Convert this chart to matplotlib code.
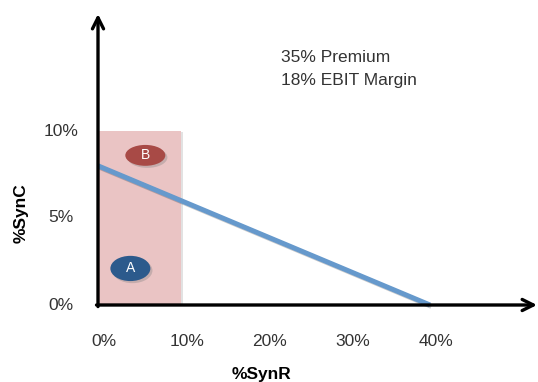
import matplotlib
matplotlib.use("Agg")
import matplotlib.pyplot as plt
import matplotlib.patches as mpatches
import matplotlib.patheffects as pe
import matplotlib.transforms as mtransforms

plt.rcParams['font.family'] = ['Liberation Sans', 'DejaVu Sans']

# Synergy values (in %)
x_ticks = [0, 10, 20, 30, 40]
y_ticks = [0, 5, 10]
x_tick_labels = ['0%', '10%', '20%', '30%', '40%']
y_tick_labels = ['0%', '5%', '10%']

# Break-even line: %SynC vs %SynR
line_synr = [0, 40]
line_sync = [8, 0]

# Shaded feasible region (SynR 0-10%, SynC 0-10%)
region_synr = [0, 10]
region_sync = [0, 10]

# Scenario markers
scen_names = ['A', 'B']
scen_synr = [3.9, 5.7]
scen_sync = [2.1, 8.6]
scen_colors = ['#2c5a8c', '#a84a46']

notes = ['35% Premium', '18% EBIT Margin']

W, H = 538, 382
fig = plt.figure(figsize=(W / 100, H / 100), dpi=100)
ax = fig.add_axes([0, 0, 1, 1])
# pixel scale: 8.3 px per % on x, 17.4 px per % on y; origin at (98, 305)
sx, sy = 8.3, 17.4
ox, oy = 98, 305
ax.set_xlim(-ox / sx, (W - ox) / sx)
ax.set_ylim(-(H - oy) / sy, oy / sy)
ax.axis('off')

shadow = [pe.SimplePatchShadow(offset=(1.5, -1.5), shadow_rgbFace='#808080', alpha=0.35), pe.Normal()]

# Shaded region
rect = mpatches.Rectangle((region_synr[0], region_sync[0]),
                          region_synr[1] - region_synr[0],
                          region_sync[1] - region_sync[0],
                          facecolor='#eac4c4', edgecolor='none', zorder=1)
rect.set_path_effects([pe.SimplePatchShadow(offset=(1.5, -1), shadow_rgbFace='#a0a0a0', alpha=0.3), pe.Normal()])
ax.add_patch(rect)

# Break-even line
ax.plot(line_synr, line_sync, color='#6699cc', lw=3.6, solid_capstyle='butt', zorder=3,
        path_effects=[pe.SimpleLineShadow(offset=(1, -1), alpha=0.2), pe.Normal()])

# Axes with arrow heads
arrow_kw = dict(arrowstyle='->', lw=2.4, color='black', mutation_scale=20, shrinkA=0, shrinkB=0)
ax.annotate('', xy=(0, (oy - 14) / sy), xytext=(0, -0.09), arrowprops=arrow_kw, zorder=5)
ax.annotate('', xy=((W - 1 - ox) / sx, 0), xytext=(-0.18, 0), arrowprops=arrow_kw, zorder=5)

# Scenario ellipses
for name, xv, yv, c in zip(scen_names, scen_synr, scen_sync, scen_colors):
    h = 1.45 if name == 'A' else 1.2
    e = mpatches.Ellipse((xv, yv), 40 / sx, h, facecolor=c, edgecolor='none', zorder=4)
    e.set_path_effects(shadow)
    ax.add_patch(e)
    ax.text(xv, yv, name, color='white', fontsize=10, ha='center', va='center', zorder=6)

# Tick labels
tick_color = '#333333'
xoff = mtransforms.offset_copy(ax.transData, fig=fig, x=6, y=0, units='dots')
for v, lab in zip(x_ticks, x_tick_labels):
    ax.text(v, -(342 - oy) / sy, lab, transform=xoff, fontsize=12.5, color=tick_color,
            ha='center', va='center')
yoff = mtransforms.offset_copy(ax.transData, fig=fig, x=-37, y=0, units='dots')
for v, lab in zip(y_ticks, y_tick_labels):
    ax.text(0, v, lab, transform=yoff, fontsize=12.5, color=tick_color,
            ha='center', va='center')

# Axis titles
fig.text(21 / W, 1 - 213 / H, '%SynC', rotation=90, fontsize=12.5, fontweight='bold',
         ha='center', va='center')
fig.text(262 / W, 1 - 374 / H, '%SynR', fontsize=12.5, fontweight='bold',
         ha='center', va='center')

# Deal assumptions
fig.text(281 / W, 1 - 58 / H, notes[0], fontsize=12.5, color=tick_color, ha='left', va='center')
fig.text(281 / W, 1 - 80 / H, notes[1], fontsize=12.5, color=tick_color, ha='left', va='center')

fig.savefig('out.png', dpi=100)
